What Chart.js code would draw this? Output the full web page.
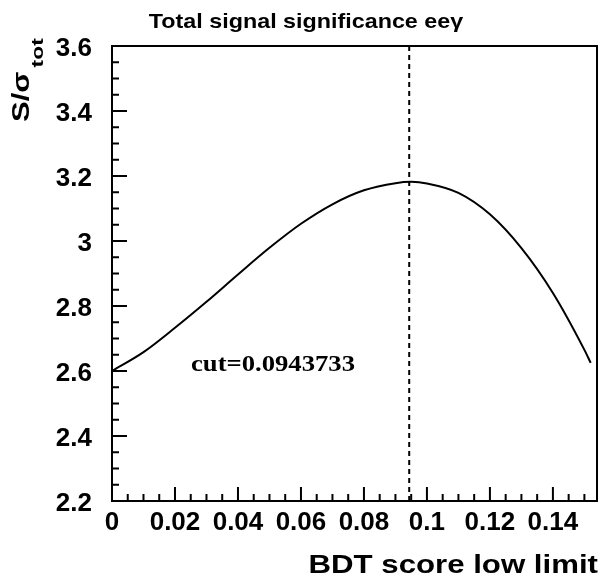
<!DOCTYPE html>
<html>
<head>
<meta charset="utf-8">
<script src="https://cdn.jsdelivr.net/npm/chart.js@4/dist/chart.umd.min.js"></script>
<style>
  html, body { margin: 0; padding: 0; background: #fff; }
  #wrap { width: 603px; height: 576px; position: relative; }
</style>
</head>
<body>
<div id="wrap"><canvas id="chart"></canvas></div>
<script>
// BDT score cut vs total signal significance
var bdtCut = [0, 0.01, 0.02, 0.03, 0.04, 0.05, 0.06, 0.07, 0.08, 0.09, 0.095,
              0.10, 0.11, 0.12, 0.13, 0.14, 0.15, 0.152];
var significance = [2.600, 2.658, 2.733, 2.813, 2.897, 2.979, 3.053, 3.113, 3.156, 3.178, 3.182,
                    3.177, 3.148, 3.082, 2.978, 2.840, 2.665, 2.625];
var bestCut = 0.0943733;

var xTickValues = [0, 0.02, 0.04, 0.06, 0.08, 0.1, 0.12, 0.14];
var yTickValues = [2.2, 2.4, 2.6, 2.8, 3.0, 3.2, 3.4, 3.6];
var xMinorStep = 0.005;
var yMinorStep = 0.05;

var titleText = "Total signal significance ee\u03b3";
var xTitle = "BDT score low limit";
var cutLabel = "cut=" + bestCut;

function fmt(v) { return String(+v.toFixed(2)); }

// draw text stretched along its direction
function wideText(ctx, txt, x, y, sx) {
    ctx.save();
    ctx.translate(x, y);
    ctx.scale(sx, 1);
    ctx.fillText(txt, 0, 0);
    ctx.restore();
}

// ROOT style frame, inner ticks and texts
var rootFrame = {
    id: 'rootFrame',
    afterDraw: function(chart) {
        var ctx = chart.ctx;
        var a = chart.chartArea;
        var xs = chart.scales.x, ys = chart.scales.y;
        ctx.save();
        ctx.strokeStyle = '#000';
        ctx.lineWidth = 2;
        ctx.strokeRect(a.left, a.top, a.right - a.left, a.bottom - a.top);

        ctx.beginPath();
        for (var v = xs.min; v <= xs.max + 1e-9; v += xMinorStep) {
            var px = xs.getPixelForValue(v);
            var major = xTickValues.some(function(t) { return Math.abs(t - v) < 1e-6; });
            ctx.moveTo(px, a.bottom);
            ctx.lineTo(px, a.bottom - (major ? 14 : 7));
        }
        for (var w = ys.min; w <= ys.max + 1e-9; w += yMinorStep) {
            var py = ys.getPixelForValue(w);
            var majorY = yTickValues.some(function(t) { return Math.abs(t - w) < 1e-6; });
            ctx.moveTo(a.left, py);
            ctx.lineTo(a.left + (majorY ? 15 : 7), py);
        }
        ctx.stroke();

        ctx.fillStyle = '#000';
        ctx.textBaseline = 'alphabetic';
        ctx.textAlign = 'left';

        // top title
        ctx.font = 'bold 21px "Liberation Sans", Arial, sans-serif';
        var tw = ctx.measureText(titleText).width * 1.11;
        wideText(ctx, titleText, 306 - tw / 2, 28, 1.11);

        // x title
        ctx.font = 'bold 26px "Liberation Sans", Arial, sans-serif';
        var xw = ctx.measureText(xTitle).width * 1.2;
        wideText(ctx, xTitle, 598 - xw, 573, 1.2);

        // y title S/sigma_tot
        ctx.save();
        ctx.translate(29, 122);
        ctx.rotate(-Math.PI / 2);
        ctx.font = 'bold 23px "Liberation Sans", Arial, sans-serif';
        var wMain = ctx.measureText('S/\u03c3').width * 1.35;
        wideText(ctx, 'S/\u03c3', 0, 0, 1.35);
        ctx.font = 'bold 17px "Liberation Sans", Arial, sans-serif';
        wideText(ctx, 'tot', wMain + 4, 14, 1.35);
        ctx.restore();

        // cut label
        ctx.font = 'bold 24px "Liberation Serif", "Times New Roman", serif';
        wideText(ctx, cutLabel, xs.getPixelForValue(0.0251), ys.getPixelForValue(2.6), 1.11);
        ctx.restore();
    }
};

var ctx = document.getElementById('chart');
new Chart(ctx, {
    type: 'line',
    data: {
        datasets: [{
            label: 'significance',
            data: bdtCut.map(function(x, i) { return { x: x, y: significance[i] }; }),
            borderColor: '#000',
            borderWidth: 2,
            pointRadius: 0,
            cubicInterpolationMode: 'monotone',
            fill: false
        }, {
            label: 'cut',
            data: [{ x: bestCut, y: yTickValues[0] }, { x: bestCut, y: yTickValues[yTickValues.length - 1] }],
            borderColor: '#000',
            borderWidth: 2,
            borderDash: [5, 4],
            pointRadius: 0,
            fill: false
        }]
    },
    options: {
        responsive: true,
        maintainAspectRatio: false,
        animation: false,
        layout: { padding: { left: 0, right: 6, top: 46, bottom: 0 } },
        plugins: {
            legend: { display: false },
            tooltip: { enabled: false },
            title: { display: false }
        },
        scales: {
            x: {
                type: 'linear',
                min: 0,
                max: 0.154,
                grid: { display: false, drawTicks: false },
                border: { display: false },
                afterBuildTicks: function(scale) { scale.ticks = xTickValues.map(function(v) { return { value: v }; }); },
                afterFit: function(scale) { scale.height = 75; },
                ticks: {
                    padding: 6,
                    maxRotation: 0,
                    autoSkip: false,
                    color: '#000',
                    font: { family: '"Liberation Sans", Arial, sans-serif', size: 26, weight: 'bold' },
                    callback: function(v) { return fmt(v); }
                }
            },
            y: {
                type: 'linear',
                min: 2.2,
                max: 3.6,
                grid: { display: false, drawTicks: false },
                border: { display: false },
                afterBuildTicks: function(scale) { scale.ticks = yTickValues.map(function(v) { return { value: v }; }); },
                afterFit: function(scale) { scale.width = 112; },
                ticks: {
                    padding: 20,
                    labelOffset: 3,
                    autoSkip: false,
                    color: '#000',
                    font: { family: '"Liberation Sans", Arial, sans-serif', size: 26, weight: 'bold' },
                    callback: function(v) { return fmt(v); }
                }
            }
        }
    },
    plugins: [rootFrame]
});
</script>
</body>
</html>
